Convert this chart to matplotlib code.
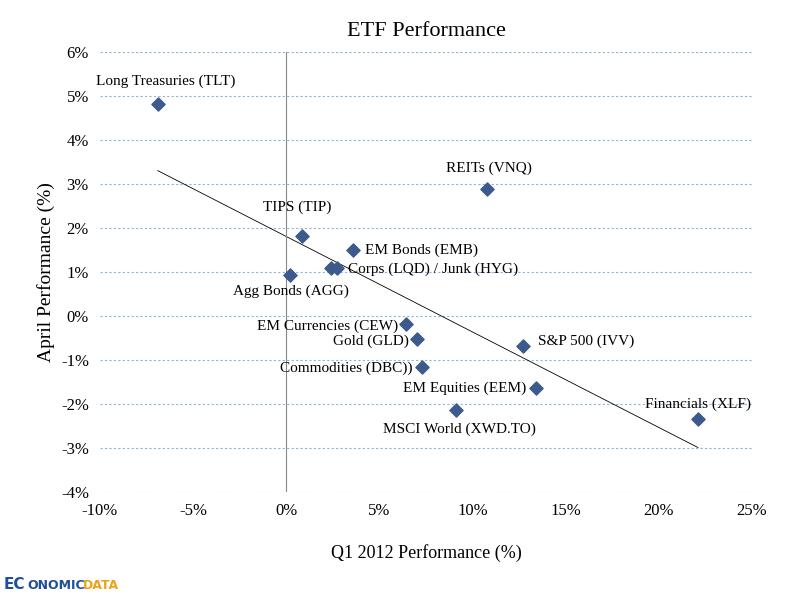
import matplotlib.pyplot as plt
import numpy as np
from matplotlib.ticker import FuncFormatter

labels = ["Long Treasuries (TLT)", "REITs (VNQ)", "TIPS (TIP)", "EM Bonds (EMB)",
          "Corps (LQD)", "Junk (HYG)", "Agg Bonds (AGG)", "EM Currencies (CEW)",
          "Gold (GLD)", "S&P 500 (IVV)", "Commodities (DBC))", "EM Equities (EEM)",
          "MSCI World (XWD.TO)", "Financials (XLF)"]
q1 = np.array([-6.9, 10.8, 0.86, 3.6, 2.4, 2.7, 0.2, 6.4, 7.0, 12.7, 7.3, 13.4, 9.1, 22.1])
april = np.array([4.82, 2.89, 1.82, 1.5, 1.09, 1.09, 0.93, -0.18, -0.52, -0.68, -1.16, -1.64, -2.14, -2.34])

plt.rcParams['font.family'] = ['Liberation Serif', 'DejaVu Serif']
fig = plt.figure(figsize=(8, 6.01), dpi=100)
ax = fig.add_axes([0.125, 0.181, 0.815, 0.732])

ax.scatter(q1, april, marker="D", s=45, color="#3d5a8c", zorder=3)

# trend line
m, b = np.polyfit(q1, april, 1)
xx = np.array([q1.min(), q1.max()])
ax.plot(xx, m*xx+b, color="black", lw=0.6)

# label positions (data coords)
pos = {"Long Treasuries (TLT)": (-6.5, 5.34, "center"),
       "REITs (VNQ)": (10.9, 3.36, "center"),
       "TIPS (TIP)": (0.6, 2.48, "center"),
       "EM Bonds (EMB)": (4.2, 1.5, "left"),
       "Corps (LQD)": (3.3, 1.07, "left"),
       "Agg Bonds (AGG)": (0.27, 0.57, "center"),
       "EM Currencies (CEW)": (6.0, -0.23, "right"),
       "Gold (GLD)": (6.6, -0.57, "right"),
       "S&P 500 (IVV)": (13.5, -0.57, "left"),
       "Commodities (DBC))": (6.8, -1.18, "right"),
       "EM Equities (EEM)": (12.9, -1.64, "right"),
       "MSCI World (XWD.TO)": (9.3, -2.57, "center"),
       "Financials (XLF)": (22.1, -2.0, "center")}
for lab, (x, y, ha) in pos.items():
    text = "Corps (LQD) / Junk (HYG)" if lab == "Corps (LQD)" else lab
    ax.text(x, y, text, ha=ha, va="center", fontsize=11)

ax.set_xlim(-10, 25)
ax.set_ylim(-4, 6)
ax.set_xticks(np.arange(-10, 26, 5))
ax.set_yticks(np.arange(-4, 7, 1))
ax.xaxis.set_major_formatter(FuncFormatter(lambda v, p: f"{v:.0f}%"))
ax.yaxis.set_major_formatter(FuncFormatter(lambda v, p: f"{v:.0f}%"))
ax.tick_params(labelsize=12, length=0, pad=8)
for s in ax.spines.values():
    s.set_visible(False)
ax.grid(axis="y", color="#8fb3d9", linestyle=(0, (2, 2)), lw=0.8)
ax.axvline(0, color="#888888", lw=0.8)

ax.set_title("ETF Performance", fontsize=16, pad=12)
ax.set_xlabel("Q1 2012 Performance (%)", fontsize=13, labelpad=18)
ax.set_ylabel("April Performance (%)", fontsize=14)

fig.text(0.005, 0.02, "EC", color="#1f4e9a", fontsize=11, fontweight="bold", family="DejaVu Sans")
fig.text(0.034, 0.02, "ONOMIC", color="#1f4e9a", fontsize=9, fontweight="bold", family="DejaVu Sans")
fig.text(0.103, 0.02, "DATA", color="#e8a317", fontsize=9, fontweight="bold", family="DejaVu Sans")

fig.savefig("out.png")
